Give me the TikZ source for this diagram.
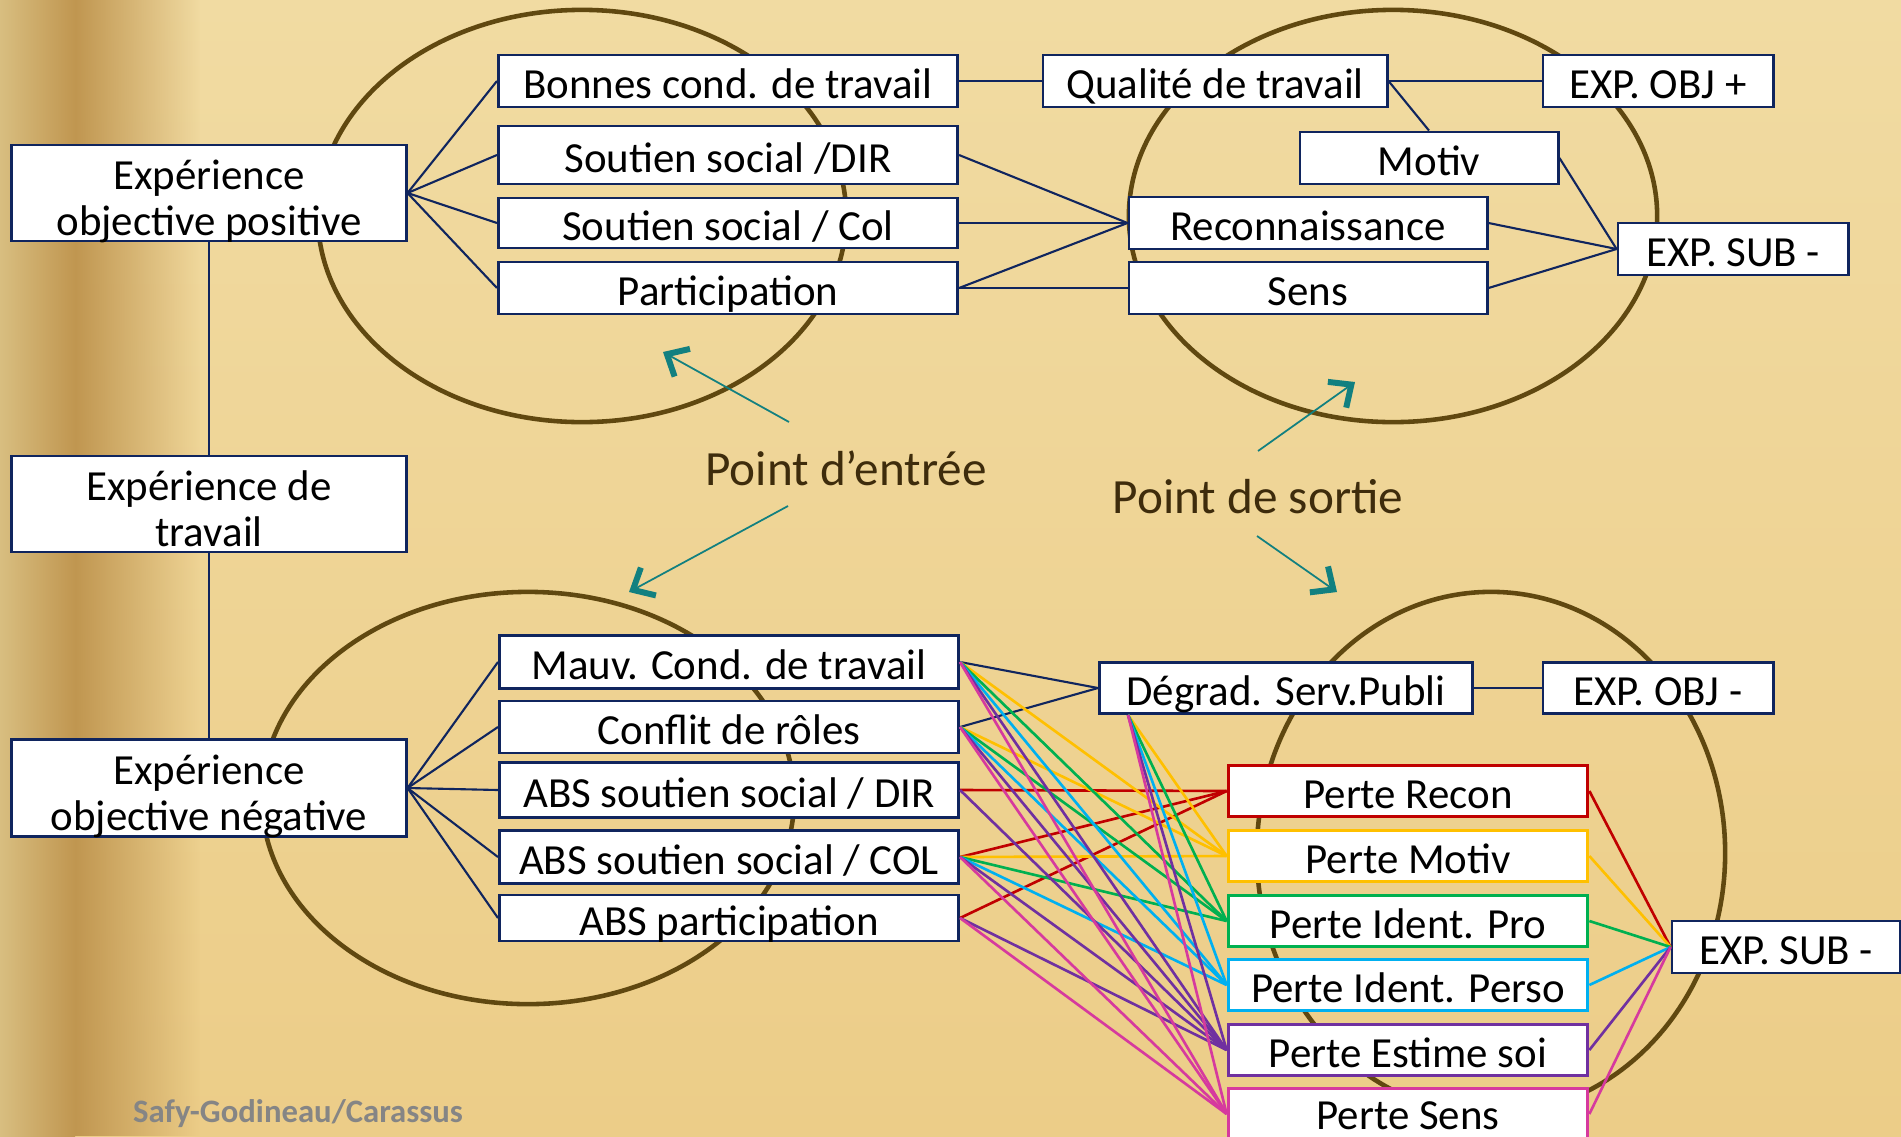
\documentclass[tikz,border=0pt]{standalone}
\usepackage{fontspec}
\setmainfont{Carlito}
\usetikzlibrary{arrows.meta,calc,fadings}

\definecolor{parchtop}{RGB}{241,219,162}
\definecolor{parchbot}{RGB}{236,205,136}
\definecolor{bandlite}{RGB}{216,190,128}
\definecolor{banddark}{RGB}{192,150,80}
\definecolor{ringbrown}{RGB}{96,72,16}
\definecolor{navy}{RGB}{16,37,94}
\definecolor{txtbrown}{RGB}{62,44,12}
\definecolor{arrteal}{RGB}{18,128,128}
\definecolor{lred}{RGB}{192,0,0}
\definecolor{lyellow}{RGB}{255,192,0}
\definecolor{lgreen}{RGB}{0,176,80}
\definecolor{lcyan}{RGB}{0,176,240}
\definecolor{lpurple}{RGB}{112,48,160}
\definecolor{lmagenta}{RGB}{214,58,158}

\begin{document}
\begin{tikzpicture}[x=0.01cm,y=-0.01cm,
	box/.style={draw=navy,line width=0.8pt,fill=white,inner sep=0pt,align=center,
		font=\fontsize{12.2}{13}\selectfont,minimum height=0.52cm,text height=10pt,text depth=0pt},
	duo/.style={text height=24pt,text depth=0pt,minimum width=3.94cm},
	perte/.style={box,draw=#1,line width=1pt,minimum width=3.59cm,minimum height=0.51cm},
	link/.style={navy,line width=0.6pt},
	tie/.style={line width=0.75pt},
	ring/.style={draw=ringbrown,line width=1.3pt},
	pointer/.style={arrteal,line width=0.5pt,-{Straight Barb[length=5pt,width=9pt,line width=1.7pt]}},
	caption/.style={text=txtbrown,font=\fontsize{14}{16}\selectfont}]
	\clip (0,0) rectangle (1901,1136);
	
	%parchment
	\shade[top color=parchtop,bottom color=parchbot] (0,0) rectangle (1901,1136);
	\shade[left color=bandlite,right color=banddark] (0,0) rectangle (75,1136);
	\fill[banddark,path fading=east] (75,0) rectangle (200,1136);
	
	%ellipses
	\draw[ring] (582,216) ellipse [x radius=2.64cm,y radius=2.06cm];		%upper left
	\draw[ring] (1393,216) ellipse [x radius=2.64cm,y radius=2.06cm];	%upper right
	\draw[ring] (528,798) ellipse [x radius=2.66cm,y radius=2.06cm];		%lower left
	\draw[ring] (1491,853) ellipse [x radius=2.34cm,y radius=2.61cm];	%lower right
	
	%left column
	\node[box,duo,minimum height=0.96cm] (exppos) at (209,193) {Expérience\\objective positive};
	\node[box,duo,minimum height=0.96cm] (exptrav) at (209,504) {Expérience de\\travail};
	\node[box,duo,minimum height=0.97cm] (expneg) at (209,788) {Expérience\\objective négative};
	
	%upper middle
	\node[box,minimum width=4.59cm] (bonnes) at (728,81) {Bonnes cond. de travail};
	\node[box,minimum width=4.59cm,minimum height=0.58cm] (soudir) at (728,155) {Soutien social /DIR};
	\node[box,minimum width=4.59cm,minimum height=0.50cm] (soucol) at (728,223) {Soutien social / Col};
	\node[box,minimum width=4.59cm] (partic) at (728,288) {Participation};
	
	%upper right
	\node[box,minimum width=3.44cm] (qualite) at (1215,81) {Qualité de travail};
	\node[box,minimum width=2.30cm] (objplus) at (1658,81) {EXP. OBJ +};
	\node[box,minimum width=2.58cm] (motiv) at (1429,158) {Motiv};
	\node[box,minimum width=3.58cm] (recon) at (1308,223) {Reconnaissance};
	\node[box,minimum width=3.58cm] (sens) at (1308,288) {Sens};
	\node[box,minimum width=2.30cm] (subtop) at (1733,249) {EXP. SUB -};
	
	%lower middle
	\node[box,minimum width=4.59cm,minimum height=0.53cm] (mauv) at (729,662) {Mauv. Cond. de travail};
	\node[box,minimum width=4.59cm,minimum height=0.52cm] (conflit) at (729,727) {Conflit de rôles};
	\node[box,minimum width=4.59cm,minimum height=0.55cm] (absdir) at (729,790) {ABS soutien social / DIR};
	\node[box,minimum width=4.59cm,minimum height=0.53cm] (abscol) at (729,857) {ABS soutien social / COL};
	\node[box,minimum width=4.59cm,minimum height=0.46cm] (abspart) at (729,918) {ABS participation};
	
	%lower right
	\node[box,minimum width=3.73cm,minimum height=0.51cm] (degrad) at (1286,688) {Dégrad. Serv.Publi};
	\node[box,minimum width=2.30cm,minimum height=0.51cm] (objmoins) at (1658,688) {EXP. OBJ -};
	\node[perte=lred] (precon) at (1408,791) {Perte Recon};
	\node[perte=lyellow] (pmotiv) at (1408,856) {Perte Motiv};
	\node[perte=lgreen] (ppro) at (1408,921) {Perte Ident. Pro};
	\node[perte=lcyan] (pperso) at (1408,985) {Perte Ident. Perso};
	\node[perte=lpurple] (pestime) at (1408,1050) {Perte Estime soi};
	\node[perte=lmagenta,text height=8.6pt] (psens) at (1408,1114) {Perte Sens};
	\node[box,minimum width=2.28cm] (subbot) at (1786,947) {EXP. SUB -};
	
	%upper links
	\draw[link] (exppos.south) -- (exptrav.north);
	\draw[link] (exptrav.south) -- (expneg.north);
	\foreach \b in {bonnes,soudir,soucol,partic}
		\draw[link] (exppos.east) -- (\b.west);
	\draw[link] (bonnes.east) -- (qualite.west);
	\draw[link] (qualite.east) -- (objplus.west);
	\draw[link] (qualite.east) -- (motiv.north);
	\foreach \b in {soudir,soucol,partic}
		\draw[link] (\b.east) -- (recon.west);
	\draw[link] (partic.east) -- (sens.west);
	\foreach \b in {motiv,recon,sens}
		\draw[link] (\b.east) -- (subtop.west);
	
	%lower links
	\foreach \b in {mauv,conflit,absdir,abscol,abspart}
		\draw[link] (expneg.east) -- (\b.west);
	\draw[link] (mauv.east) -- (degrad.west);
	\draw[link] (conflit.east) -- (degrad.west);
	\draw[link] (degrad.east) -- (objmoins.west);
	\coordinate (dfoot) at ([xshift=0.3cm]degrad.south west);
	
	%colored ties
	\foreach \s/\t/\c in {absdir.east/precon/lred, abscol.east/precon/lred, abspart.east/precon/lred,
		mauv.east/pmotiv/lyellow, conflit.east/pmotiv/lyellow, abscol.east/pmotiv/lyellow, dfoot/pmotiv/lyellow,
		mauv.east/ppro/lgreen, conflit.east/ppro/lgreen, abscol.east/ppro/lgreen, dfoot/ppro/lgreen,
		mauv.east/pperso/lcyan, conflit.east/pperso/lcyan, abscol.east/pperso/lcyan, dfoot/pperso/lcyan,
		mauv.east/pestime/lpurple, conflit.east/pestime/lpurple, absdir.east/pestime/lpurple,
		abscol.east/pestime/lpurple, abspart.east/pestime/lpurple, dfoot/pestime/lpurple,
		mauv.east/psens/lmagenta, conflit.east/psens/lmagenta, abscol.east/psens/lmagenta,
		abspart.east/psens/lmagenta, dfoot/psens/lmagenta}
		\draw[tie,\c] (\s) -- (\t.west);
	\foreach \p/\c in {precon/lred,pmotiv/lyellow,ppro/lgreen,pperso/lcyan,pestime/lpurple,psens/lmagenta}
		\draw[tie,\c] (\p.east) -- (subbot.west);
	
	%captions
	\node[caption] (entree) at (846,468) {Point d’entrée};
	\node[caption] (sortie) at (1258,497) {Point de sortie};
	\node[font=\fontsize{9.3}{11}\selectfont\bfseries,text=black!48] (credit) at (298,1114) {Safy-Godineau/Carassus};
	
	%pointers
	\coordinate (e1) at (789,422);	\coordinate (e1h) at (663,352);		%entree: up
	\coordinate (e2) at (788,506);	\coordinate (e2h) at (629,592);		%entree: down
	\coordinate (s1) at (1258,451);	\coordinate (s1h) at (1355,382);	%sortie: up
	\coordinate (s2) at (1257,536);	\coordinate (s2h) at (1337,592);	%sortie: down
	\draw[pointer] (e1) -- (e1h);
	\draw[pointer] (e2) -- (e2h);
	\draw[pointer] (s1) -- (s1h);
	\draw[pointer] (s2) -- (s2h);
\end{tikzpicture}
\end{document}
